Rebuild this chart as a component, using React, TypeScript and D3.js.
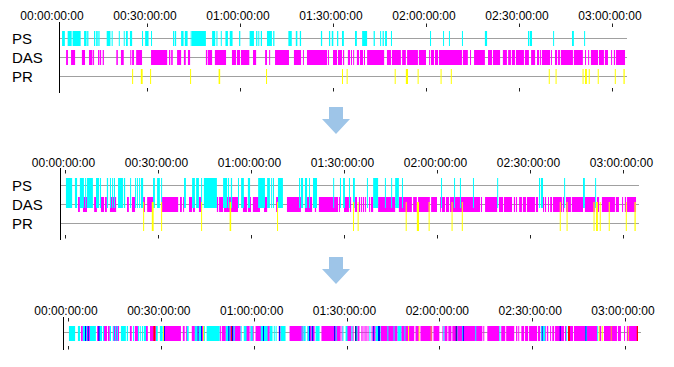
import * as d3 from "d3";
import React from "react";

// time values are minutes from 00:00:00:00
const tickMinutes = [0, 30, 60, 90, 120, 150, 180];
const tickLabels = ["00:00:00:00", "00:30:00:00", "01:00:00:00", "01:30:00:00", "02:00:00:00", "02:30:00:00", "03:00:00:00"];
const rowNames = ["PS", "DAS", "PR"];

// top panel: raw detections
const psRaw = [[2.6,3.5],[4.4,5.7],[6.0,8.6],[9.7,10.5],[10.7,11.1],[12.9,13.3],[13.6,14.1],[14.3,14.7],[17.0,18.2],[18.6,18.9],[20.9,21.2],[22.5,22.8],[23.2,23.8],[24.5,25.2],[28.4,28.7],[29.4,30.5],[31.3,31.6],[38.4,38.8],[39.0,39.4],[41.0,41.8],[42.2,43.1],[44.1,44.3],[44.5,49.0],[51.0,52.0],[52.4,52.6],[53.8,54.1],[55.3,56.1],[56.7,57.6],[59.7,60.1],[63.1,64.5],[65.2,65.6],[65.9,66.2],[66.7,67.1],[68.7,70.3],[70.7,71.1],[75.6,76.7],[78.0,78.5],[79.3,79.7],[86.1,86.5],[88.7,89.1],[89.6,90.1],[91.3,91.7],[92.9,93.5],[97.1,97.7],[99.4,101.0],[103.1,103.5],[105.2,105.5],[106.0,106.4],[106.8,107.4],[108.7,109.0],[121.3,121.6],[125.5,125.8],[127.4,127.7],[131.6,131.9],[139.0,139.7],[152.9,153.3],[153.5,154.2],[161.0,161.3],[167.1,167.7],[171.0,171.3]];
const dasRaw = [[3.9,4.5],[5.5,6.8],[9.0,10.0],[11.3,12.4],[12.6,12.9],[14.2,14.5],[14.7,15.2],[15.7,16.1],[20.1,20.6],[21.6,22.5],[24.6,24.9],[25.2,25.8],[26.5,28.4],[31.3,36.5],[37.1,37.5],[37.8,38.3],[39.7,41.0],[41.9,42.5],[43.2,43.9],[49.0,49.4],[49.6,51.0],[51.9,55.5],[57.4,58.7],[59.0,60.0],[60.3,63.0],[64.2,65.2],[68.1,68.7],[69.4,69.7],[71.3,75.8],[77.4,79.7],[80.3,80.6],[81.6,88.1],[88.4,88.7],[90.0,91.3],[91.6,92.9],[93.2,93.6],[94.8,95.5],[95.8,96.1],[96.5,96.8],[97.7,98.4],[98.7,99.7],[100.0,100.3],[101.0,106.5],[107.4,108.7],[109.0,111.9],[112.3,113.5],[113.9,117.4],[117.7,120.0],[121.0,121.3],[121.6,122.6],[122.9,123.9],[124.2,131.6],[131.9,133.5],[134.2,134.5],[135.5,139.0],[140.0,141.3],[141.6,143.9],[144.8,146.1],[146.5,147.4],[147.7,148.7],[149.0,151.6],[151.9,153.2],[153.9,155.2],[155.8,156.5],[156.8,157.1],[157.4,160.0],[160.3,160.6],[161.6,162.3],[162.6,163.2],[163.5,167.4],[167.7,170.6],[171.3,171.6],[172.3,172.6],[173.2,175.5],[175.8,177.4],[177.7,178.7],[179.7,180.0],[180.6,181.0],[181.3,184.2]];
const prEvents = [[25.2,25.5],[28.0,28.6],[31.0,31.3],[43.9,44.2],[53.1,53.6],[68.4,68.7],[92.9,93.2],[94.4,94.7],[109.9,110.2],[113.5,114.2],[117.3,117.6],[124.7,125.0],[128.0,128.3],[159.6,159.9],[161.8,162.1],[170.5,170.8],[171.3,171.9],[172.5,172.8],[175.4,175.7],[180.9,181.2],[183.7,184.1]];

// middle panel: cleaned intervals
const psClean = [[0.3,2.3],[3.2,3.9],[4.8,6.1],[6.5,6.8],[7.1,9.0],[10.0,11.0],[11.3,11.6],[13.5,13.9],[14.5,14.8],[15.2,15.5],[15.8,16.1],[17.1,18.7],[19.0,19.4],[21.0,21.3],[22.6,22.9],[23.2,23.5],[23.9,24.2],[24.5,25.2],[28.4,29.0],[29.7,30.6],[31.0,31.3],[38.4,39.0],[41.0,41.9],[42.3,43.2],[43.9,44.2],[44.8,49.0],[51.0,52.3],[52.6,52.9],[53.5,53.9],[55.8,56.1],[56.8,57.7],[59.0,59.7],[62.3,64.5],[65.2,66.1],[66.5,66.8],[67.1,67.4],[68.7,70.3],[75.5,75.8],[76.1,76.8],[77.4,78.1],[78.7,79.0],[80.0,81.3],[86.5,86.8],[88.7,89.0],[89.7,90.3],[91.6,91.9],[92.9,93.5],[97.4,97.7],[99.4,101.0],[103.2,103.5],[105.2,105.5],[106.5,107.7],[108.7,109.0],[121.3,121.6],[125.5,125.8],[127.4,127.7],[131.6,131.9],[139.4,139.7],[152.9,153.2],[153.5,154.2],[161.0,161.3],[167.1,167.7],[171.0,171.3]];
const dasClean = [[4.2,4.8],[5.8,7.1],[9.4,10.3],[11.6,12.6],[12.9,13.5],[14.5,16.5],[20.0,20.6],[21.6,22.6],[25.2,25.8],[26.5,28.4],[31.3,36.5],[37.1,37.7],[38.1,38.4],[40.0,41.0],[41.3,41.9],[43.2,43.9],[49.0,49.4],[49.7,51.0],[51.3,55.8],[57.4,58.7],[59.0,60.0],[60.6,62.9],[64.2,65.2],[68.1,68.7],[71.6,76.1],[77.4,79.7],[80.6,81.0],[81.9,88.1],[88.4,88.7],[90.0,91.6],[91.9,92.3],[93.5,94.2],[94.8,95.2],[95.5,95.8],[96.1,96.5],[96.8,97.1],[98.1,98.4],[98.7,99.4],[101.0,106.5],[107.7,111.9],[112.3,113.5],[113.9,117.7],[118.1,120.0],[121.0,121.3],[121.6,122.6],[122.9,123.9],[124.2,133.9],[134.2,134.5],[135.5,139.4],[140.0,141.3],[141.6,144.2],[144.8,145.2],[145.5,145.8],[146.5,147.4],[147.7,148.7],[149.0,151.6],[151.9,152.6],[154.2,154.5],[154.8,155.2],[155.8,156.1],[156.5,157.1],[157.4,160.3],[160.6,161.0],[161.6,163.2],[163.5,167.1],[167.7,171.0],[171.6,172.3],[173.2,177.4],[177.7,178.7],[179.7,180.0],[180.6,181.0],[181.3,184.2]];

// bottom panel: merged track, overlap markers [start, end, kind]
const mergedMarks = [[5.5,5.8,"both"],[6.4,6.7,"both"],[9.8,10.2,"both"],[27.6,28.2,"drop"],[30.7,31.0,"event"],[31.0,31.3,"both"],[41.9,42.2,"both"],[43.0,43.3,"both"],[43.6,43.9,"event"],[51.8,52.1,"both"],[52.7,53.0,"drop"],[53.0,53.3,"both"],[63.0,63.3,"both"],[68.2,68.5,"both"],[77.9,78.2,"both"],[78.9,79.2,"both"],[86.0,86.3,"both"],[92.8,93.2,"deep"],[98.5,98.8,"both"],[100.2,100.8,"both"],[109.9,110.2,"event"],[113.3,113.6,"event"],[117.2,117.5,"late"],[125.3,125.6,"deep"],[127.6,127.9,"both"],[153.1,153.4,"both"],[158.9,159.2,"both"],[161.6,162.2,"drop"],[167.2,167.5,"both"],[171.5,171.8,"event"],[172.5,172.8,"event"],[175.4,175.7,"late"],[180.9,181.2,"late"],[183.8,184.2,"drop"]];

const markColor: Record<string, string> = { both: "#0000ff", deep: "#000080", drop: "#ff0000", event: "#ffff00", late: "#ff9933" };
const FONT = "'Liberation Sans', Arial, sans-serif";
const GRID = "#a0a0a0";

function bars(data: any[], x: any, y: number, h: number, fill: string | ((d: any) => string), key: string) {
  return data.map((d, i) => {
    const a = x(d[0]);
    const w = Math.max(1, x(d[1]) - a);
    return <rect key={key + i} x={a} y={y} width={w} height={h} fill={typeof fill === "string" ? fill : fill(d)} />;
  });
}

function Axis({ x, axisX, top, bottom, labelY, labelDx, tickTop, tickBottom, lineEnd }: any) {
  return (
    <g>
      <line x1={axisX + 0.5} x2={axisX + 0.5} y1={top} y2={bottom} stroke="#000" />
      {tickMinutes.map((m, i) => (
        <text key={"l" + i} x={x(m) + labelDx} y={labelY} textAnchor="middle" fontSize={12} fontFamily={FONT} fill="#000">
          {tickLabels[i]}
        </text>
      ))}
      {tickMinutes.filter((m) => x(m) > axisX + 1).map((m) => (
        <g key={"t" + m}>
          <line x1={Math.round(x(m)) + 0.5} x2={Math.round(x(m)) + 0.5} y1={tickTop} y2={tickTop + 3.5} stroke="#222" />
          <line x1={Math.round(x(m)) + 0.5} x2={Math.round(x(m)) + 0.5} y1={tickBottom} y2={tickBottom + 3.5} stroke="#222" />
        </g>
      ))}
    </g>
  );
}

function Arrow({ cx, y }: { cx: number; y: number }) {
  const p = d3.path();
  p.moveTo(cx - 7, y);
  p.lineTo(cx + 7, y);
  p.lineTo(cx + 7, y + 12);
  p.lineTo(cx + 14, y + 12);
  p.lineTo(cx, y + 27);
  p.lineTo(cx - 14, y + 12);
  p.lineTo(cx - 7, y + 12);
  p.closePath();
  return <path d={p.toString()} fill="#9ec5e8" />;
}

export default function App() {
  const xTop = d3.scaleLinear().domain([0, 180]).range([54, 612]);
  const xMid = d3.scaleLinear().domain([0, 180]).range([65, 623]);
  const xBot = d3.scaleLinear().domain([0, 180]).range([68, 625]);

  const topRows = [38.5, 57.5, 76.5];
  const midRows = [185.5, 204.5, 223.5];

  return (
    <svg width={674} height={367} style={{ position: "absolute", left: 0, top: 0, background: "#fff" }}>
      {/* top panel */}
      {topRows.map((ry, i) => (
        <g key={"tr" + i}>
          <line x1={59} x2={627} y1={ry} y2={ry} stroke={GRID} />
          <text x={12} y={ry + 5.5} fontSize={15} fontFamily={FONT}>{rowNames[i]}</text>
        </g>
      ))}
      {bars(psRaw, xTop, 31, 15, "#00ffff", "ps")}
      {bars(dasRaw, xTop, 50, 15, "#ff00ff", "das")}
      {bars(prEvents, xTop, 69, 15, "#ffff00", "pr")}
      <Axis x={xTop} axisX={59} top={22} bottom={93} labelY={20} labelDx={-2} tickTop={23.5} tickBottom={88} />

      <Arrow cx={336} y={107} />

      {/* middle panel */}
      {midRows.map((ry, i) => (
        <g key={"mr" + i}>
          <line x1={60} x2={639} y1={ry} y2={ry} stroke={GRID} />
          <text x={12} y={ry + 5.5} fontSize={15} fontFamily={FONT}>{rowNames[i]}</text>
        </g>
      ))}
      {bars(dasClean, xMid, 197, 15, "#ff00ff", "dc")}
      {bars(psClean, xMid, 178, 30, "#00ffff", "pc")}
      {bars(prEvents, xMid, 202, 29, "#ffff00", "pm")}
      <Axis x={xMid} axisX={60} top={168} bottom={240} labelY={167} labelDx={-1.5} tickTop={170} tickBottom={235} />

      <Arrow cx={336} y={257} />

      {/* bottom panel */}
      <line x1={63} x2={641} y1={332.5} y2={332.5} stroke={GRID} />
      {bars(dasClean, xBot, 326, 15, "#ff00ff", "bd")}
      {bars(psClean, xBot, 326, 15, "#00ffff", "bp")}
      {bars(mergedMarks, xBot, 326, 15, (d) => markColor[d[2]], "bm")}
      <Axis x={xBot} axisX={63} top={317} bottom={350} labelY={315} labelDx={-2} tickTop={318} tickBottom={346} />
    </svg>
  );
}
